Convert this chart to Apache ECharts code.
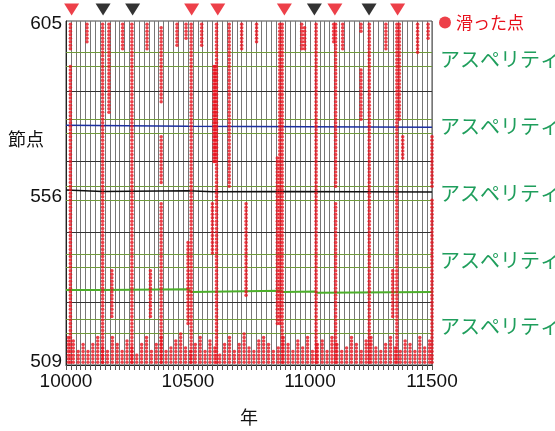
<!DOCTYPE html>
<html>
<head>
<meta charset="utf-8">
<script src="https://cdn.jsdelivr.net/npm/echarts@6/dist/echarts.min.js"></script>
<style>
  html, body { margin: 0; padding: 0; background: #fff; }
  #chart { width: 555px; height: 431px; }
</style>
</head>
<body>
<div id="chart"></div>
<script>
// 大きめのすべり: [年, [[下端節点, 上端節点], ...]]
const slipEvents = [
  [10018, [[598, 605], [509, 593]]],
  [10086, [[600, 605]]],
  [10150, [[509, 605]]],
  [10176, [[580, 605]]],
  [10188, [[522, 535]]],
  [10232, [[598, 605]]],
  [10270, [[509, 605]]],
  [10332, [[598, 605]]],
  [10346, [[522, 535]]],
  [10390, [[583, 604], [560, 573], [509, 554]]],
  [10455, [[599, 605]]],
  [10492, [[601, 605]]],
  [10500, [[520, 543]]],
  [10513, [[509, 605]]],
  [10556, [[599, 605]]],
  [10600, [[540, 554]]],
  [10606, [[566, 593]]],
  [10611, [[566, 593]]],
  [10617, [[509, 605]]],
  [10669, [[559, 605]]],
  [10720, [[598, 605]]],
  [10738, [[528, 554]]],
  [10781, [[600, 605]]],
  [10866, [[520, 567]]],
  [10876, [[520, 605]]],
  [10886, [[509, 605]]],
  [10966, [[598, 605]]],
  [10978, [[598, 604]]],
  [11025, [[509, 605]]],
  [11097, [[600, 605]]],
  [11105, [[559, 605], [509, 554]]],
  [11134, [[598, 605]]],
  [11209, [[603, 605], [578, 592]]],
  [11243, [[509, 605]]],
  [11311, [[598, 605]]],
  [11339, [[522, 535]]],
  [11356, [[509, 605]]],
  [11366, [[578, 605]]],
  [11380, [[567, 573]]],
  [11441, [[597, 605]]],
  [11484, [[601, 605]]],
  [11500, [[559, 573], [509, 555]]]
];

// 下端付近の小さなすべり（509 から上端まで）
const smallEventYears = [
  10010, 10030, 10050, 10070, 10090, 10110, 10130, 10150, 10170, 10190,
  10210, 10230, 10250, 10270, 10290, 10310, 10330, 10350, 10370, 10390,
  10410, 10430, 10450, 10470, 10490, 10510, 10530, 10550, 10570, 10590,
  10610, 10630, 10650, 10670, 10690, 10710, 10730, 10750, 10770, 10790,
  10810, 10830, 10850, 10870, 10890, 10910, 10930, 10950, 10970, 10990,
  11010, 11030, 11050, 11070, 11090, 11110, 11130, 11150, 11170, 11190,
  11210, 11230, 11250, 11270, 11290, 11310, 11330, 11350, 11370, 11390,
  11410, 11430, 11450, 11470, 11490
];
const smallEventTops = [
  516, 515, 512, 514, 512, 514, 516, 513, 512, 516,
  514, 512, 515, 513, 511, 514, 516, 512, 514, 516,
  512, 513, 515, 517, 513, 512, 514, 516, 512, 515,
  513, 511, 514, 516, 512, 514, 517, 513, 512, 515,
  516, 514, 512, 513, 516, 514, 512, 515, 513, 516,
  512, 514, 515, 512, 516, 514, 512, 513, 516, 514,
  512, 515, 516, 513, 512, 514, 516, 513, 512, 515,
  514, 512, 516, 513, 515
];

const redTriangleYears = [10023, 10515, 10622, 10895, 11102, 11359];
const blackTriangleYears = [10152, 10273, 11018, 11242];

// アスペリティの範囲（緑線）
const asperityBands = [
  [593.1, 597.0],
  [574.0, 578.1],
  [555.0, 558.85],
  [535.9, 539.75],
  [517.1, 521.2]
];
const blackGridNodes = [526, 546, 566, 586];

const blueLine = [[10000, 576.3], [10500, 576.0], [11000, 575.9], [11500, 575.7]];
const blackLine = [[10000, 557.9], [10150, 557.5], [10500, 557.7], [10600, 557.4], [10900, 557.5], [11500, 557.3]];
const greenLine = [
  [10000, 529.5], [10150, 529.5], [10155, 529.0], [10500, 529.7], [10515, 528.9],
  [10880, 529.3], [10890, 528.9], [11020, 529.1], [11030, 528.7], [11500, 528.9]
];

const yTickLabels = [509, 556, 605];
const xTickLabels = [10000, 10500, 11000, 11500];

function slipPoints() {
  const pts = [];
  slipEvents.forEach(([yr, ranges]) => {
    ranges.forEach(([lo, hi]) => {
      for (let n = lo; n <= hi; n++) pts.push([yr, n]);
    });
  });
  smallEventYears.forEach((yr, i) => {
    for (let n = 509; n <= smallEventTops[i]; n++) pts.push([yr, n]);
  });
  return pts;
}

const RED = '#e8101c';
const GREEN_TXT = '#1f9e5c';
const OLIVE = '#6f9a3a';
const TRI_Y = 609.2;

const chart = echarts.init(document.getElementById('chart'));

const option = {
  animation: false,
  textStyle: { fontFamily: 'Liberation Sans, Noto Sans CJK JP' },
  grid: { left: 66, right: 123, top: 21, bottom: 55, show: true, borderColor: '#444', borderWidth: 1 },
  legend: {
    data: ['滑った点'],
    left: 434,
    top: 9,
    itemWidth: 12,
    itemHeight: 12,
    textStyle: { color: RED, fontSize: 17, fontFamily: 'Noto Sans CJK JP' }
  },
  graphic: [{
    type: 'text',
    left: 8,
    top: 130,
    style: { text: '節点', fill: '#111', font: '18px "Noto Sans CJK JP"' }
  }],
  xAxis: {
    type: 'value',
    min: 10000,
    max: 11500,
    interval: 20,
    name: '年',
    nameLocation: 'middle',
    nameGap: 43,
    nameTextStyle: { fontSize: 18, color: '#111', fontFamily: 'Noto Sans CJK JP' },
    axisLine: { lineStyle: { color: '#222' } },
    axisTick: { length: 5, lineStyle: { color: '#555' } },
    axisLabel: { customValues: xTickLabels, fontSize: 19, margin: 7, color: '#111', formatter: v => String(v) },
    splitLine: { show: true, lineStyle: { color: '#777', width: 1 } }
  },
  yAxis: {
    type: 'value',
    min: 508.2,
    max: 605.9,
    axisLine: { show: true, lineStyle: { color: '#222' } },
    axisTick: { show: false },
    splitLine: { show: false },
    axisLabel: { customValues: yTickLabels, fontSize: 19, margin: 4, color: '#111' }
  },
  series: [
    {
      name: 'asperity',
      type: 'line',
      data: [],
      silent: true,
      markLine: {
        silent: true,
        symbol: 'none',
        label: { show: false },
        data: blackGridNodes.map(v => ({ yAxis: v, lineStyle: { color: '#333', width: 1, type: 'solid' } }))
          .concat(asperityBands.flat().map(v => ({ yAxis: v, lineStyle: { color: OLIVE, width: 1, type: 'solid' } })))
      },
      markArea: {
        silent: true,
        itemStyle: { color: 'rgba(0,0,0,0)' },
        label: {
          show: true,
          position: 'right',
          distance: 8,
          color: GREEN_TXT,
          fontSize: 20,
          fontFamily: 'Noto Sans CJK JP',
          formatter: 'アスペリティ'
        },
        data: asperityBands.map(([lo, hi]) => [{ yAxis: lo }, { yAxis: hi }])
      }
    },
    {
      name: 'blue',
      type: 'line',
      data: blueLine,
      symbol: 'none',
      silent: true,
      lineStyle: { color: '#1c2fa0', width: 1.5 }
    },
    {
      name: 'black',
      type: 'line',
      data: blackLine,
      symbol: 'none',
      silent: true,
      lineStyle: { color: '#111', width: 1.5 }
    },
    {
      name: 'green',
      type: 'line',
      data: greenLine,
      symbol: 'none',
      silent: true,
      lineStyle: { color: '#4caf2a', width: 2 }
    },
    {
      name: '滑った点',
      type: 'scatter',
      data: slipPoints(),
      symbol: 'circle',
      symbolSize: 3.5,
      itemStyle: { color: RED },
      z: 5
    },
    {
      name: 'red-tri',
      type: 'scatter',
      data: redTriangleYears.map(y => [y, TRI_Y]),
      symbol: 'triangle',
      symbolRotate: 180,
      symbolSize: [15, 12],
      clip: false,
      itemStyle: { color: RED }
    },
    {
      name: 'black-tri',
      type: 'scatter',
      data: blackTriangleYears.map(y => [y, TRI_Y]),
      symbol: 'triangle',
      symbolRotate: 180,
      symbolSize: [15, 12],
      clip: false,
      itemStyle: { color: '#000' }
    }
  ]
};

chart.setOption(option);
</script>
</body>
</html>
